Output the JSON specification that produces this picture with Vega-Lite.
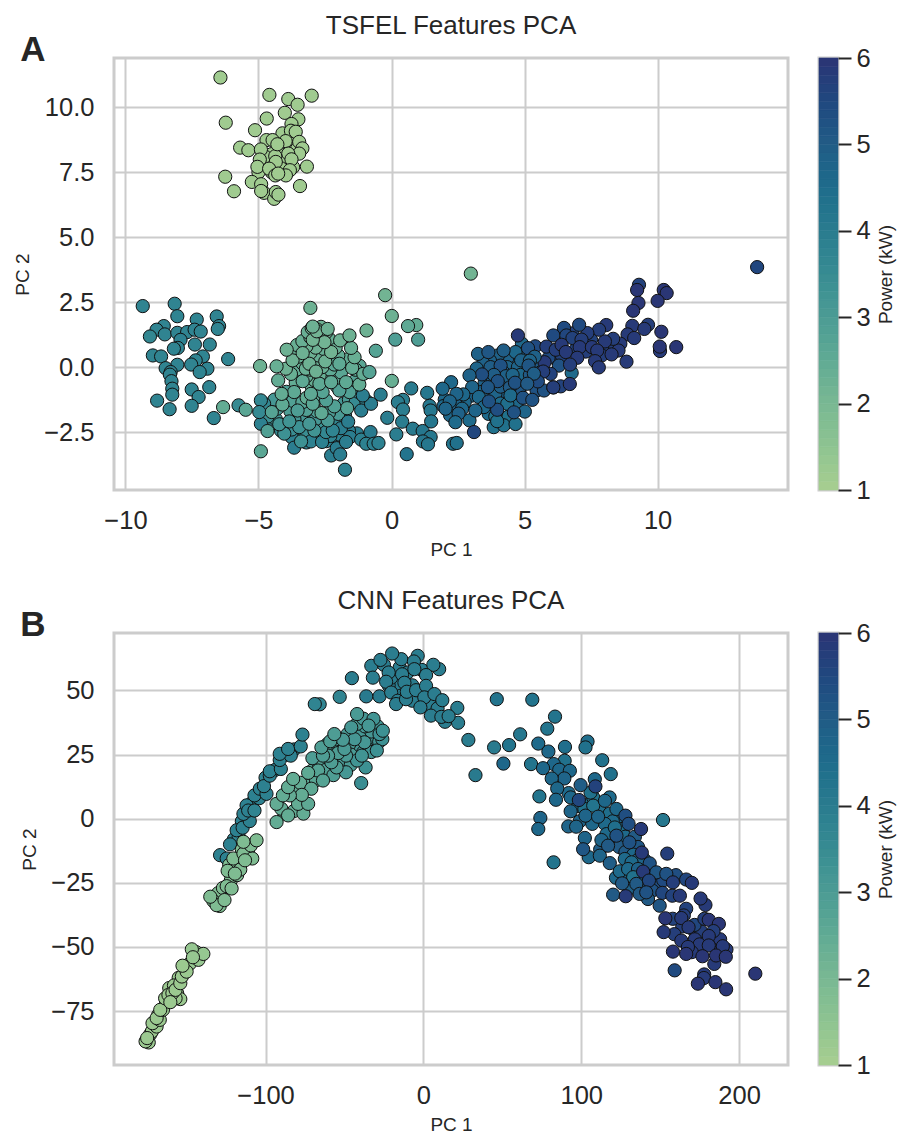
{"$schema":"https://vega.github.io/schema/vega-lite/v6.json","background":"white","padding":{"left":12,"top":11,"right":0,"bottom":0},"spacing":25,
"config":{"font":"Liberation Sans","view":{"stroke":"#cccccc","strokeWidth":3},"axis":{"domain":false,"ticks":false,"grid":true,"gridColor":"#cccccc","gridWidth":2,"labelFontSize":25.5,"labelColor":"#262626","titleFontSize":19,"titleFontWeight":"normal","titleColor":"#262626"},"title":{"fontSize":26,"fontWeight":"normal","color":"#262626","offset":-6},"concat":{"spacing":27}},
"datasets":{
"a":[{"x":-1.3,"y":-2.55,"p":3.9},{"x":-1.6,"y":-2.45,"p":3.9},{"x":-2,"y":-2.9,"p":3.9},{"x":-3.2,"y":-2.9,"p":3.8},{"x":-2.45,"y":-2.85,"p":3.8},{"x":-2.95,"y":-2.7,"p":3.6},{"x":-3.55,"y":-2.75,"p":3.6},{"x":-3.75,"y":-2.7,"p":3.8},{"x":-1.95,"y":-2.6,"p":3.8},{"x":-2.3,"y":-2.65,"p":3.7},{"x":-2.75,"y":-2.5,"p":3.5},{"x":-3.25,"y":-2.5,"p":3.4},{"x":-3.75,"y":-2.4,"p":3.4},{"x":-4.15,"y":-2.45,"p":3.5},{"x":-4.55,"y":-2.2,"p":3.6},{"x":-1.75,"y":-1.85,"p":3.7},{"x":-2,"y":-2.15,"p":3.6},{"x":-2.55,"y":-2.15,"p":3.3},{"x":-2.85,"y":-2,"p":3.1},{"x":-3.3,"y":-2.05,"p":3.1},{"x":-3.65,"y":-2,"p":3.1},{"x":-4.35,"y":-2,"p":3.2},{"x":-4.65,"y":-1.9,"p":3.3},{"x":-1.8,"y":-1.4,"p":3.1},{"x":-2,"y":-1.8,"p":3},{"x":-2.35,"y":-1.75,"p":2.9},{"x":-2.8,"y":-1.7,"p":2.8},{"x":-3.2,"y":-1.65,"p":2.8},{"x":-3.8,"y":-1.7,"p":2.9},{"x":-4.3,"y":-1.6,"p":3},{"x":-4.4,"y":-1.25,"p":3.1},{"x":-3.95,"y":-0.95,"p":2.9},{"x":-3.7,"y":-1.3,"p":2.8},{"x":-3.35,"y":-1.35,"p":2.7},{"x":-2.85,"y":-1.25,"p":2.5},{"x":-2.7,"y":-1.1,"p":2.5},{"x":-1.6,"y":-1.25,"p":3},{"x":-1.35,"y":-1.35,"p":3.5},{"x":-0.95,"y":-1.3,"p":3.7},{"x":-1.25,"y":-0.95,"p":3.6},{"x":-1.4,"y":-0.55,"p":2.7},{"x":-2.05,"y":-0.75,"p":2.6},{"x":-2.1,"y":-0.5,"p":2.5},{"x":-3.6,"y":-0.6,"p":2.4},{"x":-3,"y":-0.75,"p":2.4},{"x":-2.5,"y":-0.55,"p":2.4},{"x":-2.9,"y":-0.5,"p":2.3},{"x":-3.2,"y":-0.35,"p":2.4},{"x":-2.7,"y":-0.3,"p":2.3},{"x":-3.05,"y":-0.1,"p":2.3},{"x":-3.55,"y":-0.1,"p":2.4},{"x":-1.2,"y":0.05,"p":2.6},{"x":-1.35,"y":-0.1,"p":2.5},{"x":-1.65,"y":0.3,"p":2.4},{"x":-1.9,"y":-0.2,"p":2.6},{"x":-2.3,"y":-0.1,"p":2.5},{"x":-3.35,"y":0.15,"p":2.3},{"x":-2.6,"y":0,"p":2.3},{"x":-2.9,"y":0.25,"p":2.3},{"x":-3.2,"y":0.35,"p":2.2},{"x":-3.5,"y":0.4,"p":2.3},{"x":-2,"y":0.45,"p":2.4},{"x":-2.1,"y":0.75,"p":2.3},{"x":-2.75,"y":0.45,"p":2.3},{"x":-3.05,"y":0.55,"p":2.2},{"x":-3.75,"y":0.6,"p":2.3},{"x":-2.55,"y":0.7,"p":2.3},{"x":-2.85,"y":0.75,"p":2.2},{"x":-3.2,"y":0.8,"p":2.2},{"x":-3.55,"y":0.85,"p":2.3},{"x":-3.35,"y":1,"p":2.3},{"x":-2.35,"y":1.1,"p":2.3},{"x":-2.75,"y":1.1,"p":2.2},{"x":-3.05,"y":1.15,"p":2.2},{"x":-3.15,"y":1.35,"p":2.3},{"x":-2.45,"y":1.35,"p":2.2},{"x":-2.65,"y":1.55,"p":2.2},{"x":-2.8,"y":1.45,"p":2.1},{"x":-3,"y":1.5,"p":2.2},
{"x":4.9,"y":0.9,"p":4.6},{"x":5,"y":0.55,"p":4.7},{"x":4.6,"y":0.3,"p":4.7},{"x":4.35,"y":0.35,"p":4.8},{"x":4,"y":0.45,"p":4.8},{"x":3.7,"y":0.25,"p":4.8},{"x":3.45,"y":0.15,"p":4.8},{"x":3.2,"y":-0.05,"p":4.7},{"x":4.35,"y":0,"p":4.7},{"x":4.75,"y":0,"p":4.7},{"x":5.3,"y":0.1,"p":4.7},{"x":5.55,"y":0,"p":5},{"x":3.5,"y":-0.6,"p":4.8},{"x":3.8,"y":-0.55,"p":4.8},{"x":4.2,"y":-0.2,"p":4.7},{"x":4.85,"y":-0.3,"p":4.6},{"x":5.2,"y":-0.3,"p":5},{"x":4.8,"y":-0.85,"p":5},{"x":4.25,"y":-1,"p":4.8},{"x":3.9,"y":-1.05,"p":4.7},{"x":3.4,"y":-0.95,"p":4.7},{"x":3,"y":-1.1,"p":4.7},{"x":2.75,"y":-1.35,"p":4.6},{"x":2.4,"y":-1.4,"p":4.7},{"x":2.65,"y":-1.6,"p":4.6},{"x":3.65,"y":-1.8,"p":4.5},{"x":4.1,"y":-1.4,"p":4.5},{"x":4.7,"y":-1.4,"p":4.6},{"x":4.8,"y":-0.95,"p":5.1},{"x":5.6,"y":-0.2,"p":5.2},{"x":5.45,"y":-0.9,"p":5.2},{"x":2,"y":-1.25,"p":4.6},{"x":1.95,"y":-1.5,"p":4.6},{"x":2.2,"y":-1.85,"p":4.6},{"x":3.9,"y":-1.9,"p":4.3},{"x":4.4,"y":-1.9,"p":4.3},{"x":5.4,"y":0.8,"p":5.4},{"x":6.8,"y":1.3,"p":5.6},{"x":7,"y":0.95,"p":5.6},{"x":7.3,"y":0.6,"p":5.7},{"x":7.5,"y":1.05,"p":5.6},{"x":6.2,"y":0.35,"p":5.5},{"x":5.9,"y":0.35,"p":5.4},{"x":8.1,"y":0.75,"p":5.7},{"x":7.9,"y":0.45,"p":5.7},{"x":8.4,"y":0.8,"p":5.7},{"x":6.9,"y":0.65,"p":5.6},{"x":6.4,"y":0.45,"p":5.6},
{"x":-4.91,"y":-3.24,"p":2.6},{"x":-9.35,"y":2.35,"p":3.7},{"x":-8.15,"y":2.44,"p":3.7},{"x":-8.05,"y":1.96,"p":3.7},{"x":-7.32,"y":1.83,"p":3.7},{"x":-6.57,"y":1.95,"p":3.7},{"x":-6.48,"y":1.58,"p":3.7},{"x":-6.53,"y":1.47,"p":3.7},{"x":-8.56,"y":1.58,"p":3.7},{"x":-8.83,"y":1.44,"p":3.7},{"x":-9.08,"y":1.18,"p":3.6},{"x":-8.52,"y":1.26,"p":3.7},{"x":-8.05,"y":1.32,"p":3.7},{"x":-7.68,"y":1.35,"p":3.7},{"x":-7.4,"y":1.44,"p":3.7},{"x":-7.17,"y":1.37,"p":3.7},{"x":-7.93,"y":1.05,"p":3.8},{"x":-8.03,"y":0.74,"p":3.7},{"x":-8.18,"y":0.71,"p":3.7},{"x":-7.39,"y":0.87,"p":3.7},{"x":-6.83,"y":0.87,"p":3.7},{"x":-8.97,"y":0.45,"p":3.7},{"x":-8.66,"y":0.41,"p":3.7},{"x":-7.09,"y":0.41,"p":3.7},{"x":-7.36,"y":0.26,"p":3.7},{"x":-7.53,"y":0.1,"p":3.7},{"x":-6.92,"y":-0.06,"p":3.7},{"x":-7.21,"y":-0.19,"p":3.7},{"x":-8.05,"y":0.09,"p":3.7},{"x":-8.49,"y":-0.04,"p":3.7},{"x":-6.14,"y":0.31,"p":3.7},{"x":-8.3,"y":-0.19,"p":3.7},{"x":-8.33,"y":-0.29,"p":3.7},{"x":-8.27,"y":-0.54,"p":3.7},{"x":-8.24,"y":-0.83,"p":3.7},{"x":-8.24,"y":-1.06,"p":3.7},{"x":-7.51,"y":-0.86,"p":3.7},{"x":-6.85,"y":-0.77,"p":3.7},{"x":-7.25,"y":-1.15,"p":3.7},{"x":-8.81,"y":-1.29,"p":3.7},{"x":-8.34,"y":-1.62,"p":3.7},{"x":-7.51,"y":-1.49,"p":3.7},{"x":-6.68,"y":-1.96,"p":3.7},
{"x":-0.41,"y":-1.06,"p":3.9},{"x":0.74,"y":-0.82,"p":4.0},{"x":1.34,"y":-0.99,"p":4.1},{"x":0.43,"y":-1.26,"p":3.9},{"x":0.24,"y":-1.35,"p":3.9},{"x":0.43,"y":-1.63,"p":3.9},{"x":-0.16,"y":-1.95,"p":3.9},{"x":0.4,"y":-2.1,"p":3.9},{"x":0.18,"y":-2.59,"p":3.9},{"x":0.8,"y":-2.37,"p":4},{"x":1.17,"y":-2.46,"p":4.1},{"x":1.47,"y":-2.69,"p":4.1},{"x":1.18,"y":-2.86,"p":4.1},{"x":1.37,"y":-2.97,"p":4.1},{"x":1.43,"y":-1.49,"p":4.1},{"x":1.47,"y":-1.67,"p":4.1},{"x":1.49,"y":-2.09,"p":4.1},{"x":0.57,"y":-3.35,"p":4.2},{"x":2.31,"y":-2.95,"p":4.2},
{"x":-3.66,"y":-3.1,"p":3.9},{"x":-3.03,"y":-2.86,"p":3.8},{"x":-2.61,"y":-2.88,"p":3.8},{"x":-2.27,"y":-3.4,"p":3.9},{"x":-2.06,"y":-3.12,"p":3.9},{"x":-1.93,"y":-3.36,"p":3.9},{"x":-1.75,"y":-3.95,"p":3.8},{"x":-1.56,"y":-2.69,"p":3.9},{"x":-1.71,"y":-2.88,"p":3.9},{"x":-1.9,"y":-2.35,"p":3.9},{"x":-1.63,"y":-2.1,"p":3.9},{"x":-1.14,"y":-1.67,"p":3.9},{"x":-0.77,"y":-1.41,"p":3.9},{"x":-1.08,"y":-1.09,"p":3.9},{"x":-1.14,"y":-2.79,"p":3.8},{"x":-0.79,"y":-2.5,"p":4},{"x":-0.95,"y":-2.95,"p":3.8},{"x":-0.67,"y":-2.95,"p":3.8},{"x":-0.49,"y":-2.92,"p":3.8},{"x":-4.91,"y":-2.18,"p":3.8},{"x":-4.79,"y":-1.41,"p":3.6},{"x":-4.91,"y":-1.28,"p":3.6},{"x":-4.97,"y":-1.73,"p":3.5},
{"x":-5.75,"y":-1.47,"p":3.5},{"x":-4.03,"y":-2.56,"p":3.3},{"x":-3.47,"y":-2.31,"p":3.3},{"x":-2.46,"y":-2.5,"p":3.6},{"x":-2.21,"y":-2.44,"p":3.7},{"x":-2.9,"y":-2.44,"p":3.2},{"x":-4.22,"y":-2.2,"p":3.2},{"x":-3.84,"y":-2.09,"p":3.2},{"x":-3.09,"y":-2.18,"p":3.1},{"x":-3.4,"y":-2.86,"p":3.3},{"x":-4.66,"y":-2.46,"p":2.8},{"x":-2.4,"y":-2.05,"p":3},{"x":-4.5,"y":-1.73,"p":2.7},{"x":-3.53,"y":-1.67,"p":2.9},{"x":-4.1,"y":-1.44,"p":2.5},{"x":-2.63,"y":-1.77,"p":2.5},{"x":-1.67,"y":-1.58,"p":2.7},{"x":-2.15,"y":-1.51,"p":2.8},{"x":-3.19,"y":-1.18,"p":2.4},{"x":-3.66,"y":-0.96,"p":2.5},{"x":-4.13,"y":-1.03,"p":2.4},{"x":-2.96,"y":-1.41,"p":2.6},{"x":-2.46,"y":-1.28,"p":2.8},{"x":-1.58,"y":-0.96,"p":2.8},{"x":-1.96,"y":-0.9,"p":2.8},{"x":-2.59,"y":-0.96,"p":2.7},{"x":-3.03,"y":-1.03,"p":2.5},{"x":-4.26,"y":-0.51,"p":2.4},{"x":-3.34,"y":-0.54,"p":2.5},{"x":-2.71,"y":-0.64,"p":2.5},{"x":-2.27,"y":-0.58,"p":2.5},{"x":-1.71,"y":-0.58,"p":2.5},{"x":-1.21,"y":-0.67,"p":2.4},{"x":-1.06,"y":-0.26,"p":2.4},{"x":-0.83,"y":-0.19,"p":2.7},{"x":-1.48,"y":-0.03,"p":2.4},{"x":-3.78,"y":-0.26,"p":2.3},{"x":-3.97,"y":-0.06,"p":2.2},{"x":-3.22,"y":-0.06,"p":2.3},{"x":-2.15,"y":0.1,"p":2.6},{"x":-1.96,"y":0.13,"p":2.5},{"x":-3.09,"y":0.13,"p":2.2},{"x":-2.84,"y":-0.17,"p":2.2},{"x":-2.49,"y":0.22,"p":2.2},{"x":-3.72,"y":0.26,"p":2.2},{"x":-1.39,"y":0.38,"p":2.3},{"x":-3.34,"y":0.54,"p":2.2},{"x":-2.27,"y":0.58,"p":2.1},{"x":-3.94,"y":0.67,"p":2.2},{"x":-1.52,"y":0.74,"p":2.3},{"x":-2.52,"y":0.96,"p":2.1},{"x":-2.96,"y":1.05,"p":2.1},{"x":-1.93,"y":1.03,"p":2.2},{"x":-1.58,"y":1.22,"p":2.2},{"x":-2.81,"y":1.38,"p":2.1},{"x":-2.4,"y":1.47,"p":2.2},{"x":-2.96,"y":1.56,"p":2.2},{"x":-4.94,"y":0.04,"p":2.2},{"x":-4.32,"y":0.03,"p":2.3},{"x":-6.33,"y":-1.54,"p":2.4},{"x":-5.48,"y":-1.64,"p":2.6},{"x":-3.05,"y":2.28,"p":2.2},{"x":-0.24,"y":2.77,"p":2.1},{"x":0.01,"y":1.97,"p":2.2},{"x":-0.94,"y":1.41,"p":2.2},{"x":0.93,"y":1.62,"p":2.4},{"x":0.62,"y":1.58,"p":2.5},{"x":0.14,"y":1.06,"p":2.9},{"x":1,"y":1.06,"p":2.9},{"x":-0.59,"y":0.63,"p":2.7},{"x":0.01,"y":-0.53,"p":2.3},
{"x":2.98,"y":3.6,"p":2.1},{"x":13.74,"y":3.85,"p":5.5},{"x":9.3,"y":3.17,"p":5.6},{"x":9.23,"y":2.97,"p":5.9},{"x":10.23,"y":2.97,"p":5.9},{"x":10.34,"y":2.85,"p":5.9},{"x":10,"y":2.55,"p":5.9},{"x":9.28,"y":2.47,"p":5.9},{"x":9.08,"y":2.17,"p":5.9},{"x":9.64,"y":1.63,"p":5.7},{"x":9.05,"y":1.59,"p":5.8},{"x":9.5,"y":1.47,"p":5.8},{"x":10.14,"y":1.36,"p":5.9},{"x":8.87,"y":1.26,"p":5.8},{"x":9.12,"y":1.12,"p":5.8},{"x":10.09,"y":0.62,"p":5.8},{"x":10.08,"y":0.79,"p":5.9},{"x":10.7,"y":0.77,"p":5.9},{"x":8.6,"y":0.9,"p":5.8},{"x":8.53,"y":0.64,"p":5.8},{"x":8.27,"y":0.49,"p":5.8},{"x":8.83,"y":0.21,"p":5.8},{"x":8.33,"y":1.09,"p":5.7},{"x":8.02,"y":0.99,"p":5.8},{"x":8.07,"y":1.62,"p":5.8},{"x":7.8,"y":1.44,"p":5.7},{"x":7.36,"y":1.31,"p":5.7},{"x":7.05,"y":1.63,"p":5.4},{"x":6.48,"y":1.51,"p":5.4},{"x":6.08,"y":1.22,"p":5.4},{"x":6.57,"y":1.22,"p":5.5},{"x":6.8,"y":1.12,"p":5.6},{"x":7.14,"y":1.06,"p":5.7},{"x":5.82,"y":0.79,"p":5.7},{"x":6.17,"y":0.67,"p":5.7},{"x":6.39,"y":0.86,"p":5.8},{"x":6.55,"y":0.58,"p":5.8},{"x":7.07,"y":0.77,"p":5.8},{"x":7.53,"y":0.77,"p":5.8},{"x":7.73,"y":0.64,"p":5.8},{"x":6.98,"y":0.36,"p":5.8},{"x":7.65,"y":0.23,"p":5.8},{"x":7.79,"y":-0.01,"p":5.8},{"x":6.77,"y":-0.22,"p":4.5},{"x":6.29,"y":0.06,"p":5.2},{"x":6.71,"y":0.1,"p":5.7},{"x":5.98,"y":-0.26,"p":5.6},{"x":5.75,"y":0.19,"p":5.8},{"x":5.7,"y":-0.17,"p":5.7},{"x":5.73,"y":-0.9,"p":5.2},{"x":6.08,"y":-0.78,"p":4.8},{"x":6.36,"y":-0.74,"p":5.6},{"x":6.7,"y":-0.65,"p":5.8},{"x":6.08,"y":-0.78,"p":5.7},{"x":5.5,"y":-0.55,"p":5.4},
{"x":4.66,"y":0.58,"p":4.6},{"x":4.21,"y":0.64,"p":4.9},{"x":3.25,"y":0.51,"p":4.8},{"x":3.64,"y":0.58,"p":5.1},{"x":5.13,"y":0.73,"p":5.2},{"x":4.75,"y":1.22,"p":5.8},{"x":4.87,"y":0.26,"p":4.8},{"x":5.38,"y":0.4,"p":4.8},{"x":5.2,"y":0.25,"p":4.7},{"x":3.72,"y":0,"p":4.9},{"x":5.15,"y":0.06,"p":5.1},{"x":4.1,"y":0.06,"p":5.2},{"x":4.3,"y":-0.35,"p":4.8},{"x":4.55,"y":-0.3,"p":4.7},{"x":3.85,"y":-0.3,"p":4.9},{"x":5.35,"y":-0.25,"p":4.9},{"x":3.4,"y":-0.28,"p":5.3},{"x":2.93,"y":-0.32,"p":4.8},{"x":4.1,"y":-0.75,"p":4.9},{"x":4.45,"y":-0.78,"p":5},{"x":3.99,"y":-0.54,"p":5.2},{"x":4.64,"y":-0.6,"p":5.2},{"x":5.1,"y":-0.64,"p":5},{"x":3.62,"y":-0.77,"p":5.1},{"x":3.03,"y":-0.77,"p":4.7},{"x":2.24,"y":-0.58,"p":4.6},{"x":1.92,"y":-0.83,"p":4.6},{"x":2.7,"y":-1.05,"p":4.6},{"x":2.44,"y":-1.03,"p":4.7},{"x":2.19,"y":-1.32,"p":4.7},{"x":2.03,"y":-1.6,"p":4.7},{"x":2.52,"y":-1.79,"p":4.8},{"x":2.4,"y":-2.12,"p":4.5},{"x":2.93,"y":-2.05,"p":4.5},{"x":3.1,"y":-2.5,"p":5.5},{"x":2.45,"y":-2.92,"p":4.3},{"x":3.28,"y":-1.15,"p":4.6},{"x":3.47,"y":-1.54,"p":4.6},{"x":3.15,"y":-1.67,"p":4.7},{"x":3.84,"y":-2.31,"p":4.3},{"x":4.22,"y":-2.24,"p":4.3},{"x":4.66,"y":-2.19,"p":4.3},{"x":3.97,"y":-2.08,"p":4.3},{"x":4.35,"y":-1.41,"p":4.4},{"x":4.47,"y":-1.09,"p":4.5},{"x":5.01,"y":-1.71,"p":4.7},{"x":4.6,"y":-1.74,"p":5.2},{"x":3.97,"y":-1.64,"p":5.3},{"x":3.66,"y":-1.32,"p":5.2},{"x":4.94,"y":-1.18,"p":5.2},{"x":5.29,"y":-1.26,"p":5.2},
{"x":-4.5,"y":8.2,"p":1.1},{"x":-4.1,"y":8.3,"p":1.1},{"x":-3.9,"y":8.6,"p":1.1},{"x":-4.2,"y":7.9,"p":1.1},{"x":-3.7,"y":7.7,"p":1.1},{"x":-4.5,"y":7.5,"p":1.1},{"x":-5,"y":7.5,"p":1.1},{"x":-4.15,"y":7.65,"p":1.1},{"x":-3.55,"y":8.4,"p":1.1},{"x":-3.65,"y":8.9,"p":1.1},{"x":-4.75,"y":8.1,"p":1.1},{"x":-4.1,"y":9,"p":1.1},{"x":-6.43,"y":11.15,"p":1.1},{"x":-4.59,"y":10.48,"p":1.1},{"x":-3.88,"y":10.32,"p":1.1},{"x":-3,"y":10.45,"p":1.1},{"x":-3.53,"y":10.1,"p":1.1},{"x":-4.01,"y":9.79,"p":1.1},{"x":-4.69,"y":9.57,"p":1.1},{"x":-3.5,"y":9.54,"p":1.1},{"x":-6.23,"y":9.41,"p":1.1},{"x":-3.76,"y":9.36,"p":1.1},{"x":-5.13,"y":9.12,"p":1.1},{"x":-3.78,"y":9.1,"p":1.1},{"x":-3.6,"y":9.06,"p":1.1},{"x":-4.7,"y":8.74,"p":1.1},{"x":-3.98,"y":8.7,"p":1.1},{"x":-3.47,"y":8.67,"p":1.1},{"x":-5.69,"y":8.45,"p":1.1},{"x":-5.38,"y":8.35,"p":1.1},{"x":-4.91,"y":8.38,"p":1.1},{"x":-3.35,"y":8.42,"p":1.1},{"x":-3.47,"y":8.22,"p":1.1},{"x":-3.88,"y":8.22,"p":1.1},{"x":-4.37,"y":8.12,"p":1.1},{"x":-3.76,"y":8,"p":1.1},{"x":-4.95,"y":7.99,"p":1.1},{"x":-4.35,"y":7.9,"p":1.1},{"x":-5.04,"y":7.71,"p":1.1},{"x":-3.18,"y":7.72,"p":1.1},{"x":-3.82,"y":7.58,"p":1.1},{"x":-4.6,"y":7.64,"p":1.1},{"x":-3.97,"y":7.38,"p":1.1},{"x":-4.37,"y":7.38,"p":1.1},{"x":-4.26,"y":7.45,"p":1.1},{"x":-6.25,"y":7.33,"p":1.1},{"x":-5.25,"y":7.13,"p":1.1},{"x":-4.9,"y":7.04,"p":1.1},{"x":-3.44,"y":6.97,"p":1.1},{"x":-5.92,"y":6.77,"p":1.1},{"x":-4.79,"y":6.71,"p":1.1},{"x":-4.9,"y":6.78,"p":1.1},{"x":-4.41,"y":6.48,"p":1.1},{"x":-4.35,"y":6.74,"p":1.1},{"x":-4.25,"y":6.64,"p":1.1},{"x":-4.47,"y":8.74,"p":1.1},{"x":-4.29,"y":8.58,"p":1.1}],
"b":[{"x":-170,"y":-80,"p":1.2},{"x":-173,"y":-84,"p":1.2},{"x":-168,"y":-76.5,"p":1.2},{"x":-163,"y":-72,"p":1.2},{"x":-159,"y":-70,"p":1.2},{"x":-156,"y":-68,"p":1.2},{"x":-161,"y":-66,"p":1.2},{"x":-155,"y":-62,"p":1.2},{"x":-158,"y":-65,"p":1.2},{"x":-148,"y":-56.5,"p":1.3},{"x":-144,"y":-52,"p":1.3},{"x":-174,"y":-87.2,"p":1.2},{"x":-176,"y":-86.8,"p":1.2},{"x":-172,"y":-82.9,"p":1.2},{"x":-175,"y":-85.5,"p":1.2},{"x":-169,"y":-81,"p":1.2},{"x":-171.6,"y":-79.7,"p":1.2},{"x":-167,"y":-78.4,"p":1.2},{"x":-169,"y":-77.7,"p":1.2},{"x":-165,"y":-74.5,"p":1.2},{"x":-166.7,"y":-74.5,"p":1.2},{"x":-154,"y":-70.3,"p":1.2},{"x":-157,"y":-70,"p":1.2},{"x":-163.6,"y":-70,"p":1.2},{"x":-161.5,"y":-68.7,"p":1.2},{"x":-159,"y":-68,"p":1.2},{"x":-160.3,"y":-71.5,"p":1.2},{"x":-157,"y":-66.7,"p":1.2},{"x":-154,"y":-64.1,"p":1.2},{"x":-153,"y":-61.5,"p":1.2},{"x":-150,"y":-59.6,"p":1.2},{"x":-152.6,"y":-57.3,"p":1.2},{"x":-142.5,"y":-55,"p":1.3},{"x":-139.4,"y":-52.7,"p":1.3},{"x":-146.7,"y":-50.9,"p":1.3},{"x":-146,"y":-54,"p":1.3},
{"x":-120,"y":-8,"p":3.7},{"x":-117,"y":-7,"p":3.7},{"x":-115,"y":-1,"p":3.8},{"x":-109,"y":6,"p":3.7},{"x":-104,"y":8,"p":3.8},{"x":-100,"y":16,"p":3.7},{"x":-94,"y":19,"p":3.8},{"x":-87,"y":25,"p":3.8},{"x":-82,"y":27,"p":3.8},{"x":-128.8,"y":-14.2,"p":3.8},{"x":-122.5,"y":-10,"p":3.8},{"x":-124.6,"y":-15.5,"p":3.8},{"x":-118.3,"y":-4.5,"p":3.8},{"x":-114.5,"y":-3.5,"p":3.8},{"x":-110,"y":-0.9,"p":3.8},{"x":-114,"y":1.9,"p":3.8},{"x":-112,"y":5.2,"p":3.8},{"x":-111,"y":3.2,"p":3.8},{"x":-107,"y":3.2,"p":3.7},{"x":-107,"y":9.1,"p":3.8},{"x":-103.6,"y":11.7,"p":3.8},{"x":-99.4,"y":9.7,"p":3.8},{"x":-101,"y":12.7,"p":3.8},{"x":-97.3,"y":16.8,"p":3.8},{"x":-97.3,"y":18.5,"p":3.8},{"x":-90.3,"y":19.4,"p":3.8},{"x":-91,"y":22.9,"p":3.8},{"x":-84,"y":24.6,"p":3.8},{"x":-91,"y":25.3,"p":3.8},{"x":-85.7,"y":27.2,"p":3.8},{"x":-77.7,"y":28.2,"p":3.8},{"x":-76.6,"y":32.8,"p":3.8},
{"x":-130,"y":-29,"p":1.8},{"x":-127,"y":-27,"p":1.8},{"x":-122,"y":-24,"p":1.8},{"x":-118,"y":-22,"p":1.8},{"x":-123,"y":-18,"p":1.8},{"x":-118,"y":-17,"p":1.8},{"x":-115,"y":-12,"p":1.8},{"x":-111,"y":-12,"p":1.8},{"x":-129,"y":-34,"p":1.8},{"x":-133,"y":-32.1,"p":1.8},{"x":-131,"y":-33.7,"p":1.8},{"x":-135,"y":-30.4,"p":1.8},{"x":-126,"y":-31.7,"p":1.8},{"x":-124.6,"y":-26.3,"p":1.8},{"x":-121.5,"y":-27.2,"p":1.8},{"x":-124,"y":-20.3,"p":1.8},{"x":-116,"y":-19.8,"p":1.8},{"x":-120.4,"y":-15.5,"p":1.8},{"x":-114,"y":-13.6,"p":1.8},{"x":-108.4,"y":-15.5,"p":1.8},{"x":-109.3,"y":-10.4,"p":1.8},{"x":-105.7,"y":-8.4,"p":1.8},{"x":-114,"y":-9,"p":1.8},{"x":-119.4,"y":-21.4,"p":1.8},{"x":-113,"y":-16.2,"p":1.8},
{"x":-88,"y":2,"p":2.4},{"x":-82,"y":3,"p":2.4},{"x":-76,"y":2,"p":2.4},{"x":-80,"y":11,"p":2.4},{"x":-74,"y":13,"p":2.5},{"x":-78,"y":14,"p":2.4},{"x":-68,"y":15,"p":2.6},{"x":-70,"y":19,"p":2.6},{"x":-66,"y":21,"p":2.7},{"x":-62,"y":19,"p":2.8},{"x":-57,"y":17,"p":2.9},{"x":-60,"y":27,"p":2.8},{"x":-56,"y":27,"p":2.9},{"x":-58,"y":24,"p":2.9},{"x":-52,"y":22,"p":3},{"x":-46,"y":21,"p":3},{"x":-45,"y":26,"p":3},{"x":-41,"y":28,"p":3.1},{"x":-47,"y":29,"p":3},{"x":-38,"y":26,"p":3.2},{"x":-33,"y":26,"p":3.2},{"x":-34,"y":31,"p":3.1},{"x":-30,"y":31,"p":3.2},{"x":-40,"y":33,"p":3.1},{"x":-33,"y":34,"p":3.1},{"x":-28,"y":30,"p":3.2},{"x":-26,"y":31,"p":3.3},{"x":-37,"y":36,"p":3.1},{"x":-48,"y":33,"p":3},{"x":-53,"y":29,"p":2.9},{"x":-61,"y":29,"p":2.8},{"x":-55,"y":31,"p":2.9},{"x":-42,"y":37,"p":3},{"x":-38,"y":39,"p":3.1},{"x":-29,"y":36,"p":3.2},{"x":-46,"y":25,"p":3},
{"x":-93,"y":-1.3,"p":2.4},{"x":-90,"y":3.9,"p":2.4},{"x":-85.7,"y":1.3,"p":2.4},{"x":-93,"y":5.8,"p":2.4},{"x":-79.4,"y":5.8,"p":2.4},{"x":-73,"y":5.8,"p":2.5},{"x":-71,"y":11.7,"p":2.5},{"x":-77,"y":9.3,"p":2.4},{"x":-84.6,"y":9.1,"p":2.4},{"x":-89,"y":9.1,"p":2.4},{"x":-85.7,"y":12.3,"p":2.4},{"x":-82.5,"y":15.5,"p":2.4},{"x":-66.7,"y":18.8,"p":2.7},{"x":-73,"y":17.9,"p":2.5},{"x":-63.6,"y":14.9,"p":2.7},{"x":-70.3,"y":23.6,"p":2.9},{"x":-49,"y":18.1,"p":3.1},{"x":-55,"y":20,"p":2.9},{"x":-58.3,"y":22,"p":2.9},{"x":-39.4,"y":13.9,"p":3.4},{"x":-36.6,"y":20,"p":3.3},{"x":-42,"y":22.7,"p":3.2},{"x":-29.5,"y":26.6,"p":3.3},{"x":-39,"y":24.6,"p":3.2},{"x":-49,"y":24.6,"p":3},{"x":-54,"y":25.6,"p":2.9},{"x":-60.4,"y":24.6,"p":2.9},{"x":-63.6,"y":24.6,"p":2.9},{"x":-64.6,"y":27.8,"p":2.9},{"x":-50,"y":27.2,"p":3},{"x":-37.3,"y":29.8,"p":3.1},{"x":-43.6,"y":31,"p":3.1},{"x":-51,"y":30.8,"p":3},{"x":-59,"y":30.2,"p":2.9},{"x":-56.4,"y":33,"p":2.9},{"x":-27.8,"y":33,"p":3.3},{"x":-25.7,"y":34.3,"p":3.3},{"x":-45.7,"y":35.6,"p":3.1},{"x":-31.6,"y":38.9,"p":3.2},{"x":-34.7,"y":36.3,"p":3.1},{"x":-42,"y":40.8,"p":3},
{"x":-25,"y":60,"p":3.9},{"x":-15,"y":59,"p":3.9},{"x":-10,"y":57,"p":3.9},{"x":-1,"y":58,"p":3.9},{"x":-17,"y":52,"p":3.9},{"x":-7,"y":52,"p":3.9},{"x":-2,"y":49,"p":3.9},{"x":3,"y":49,"p":3.9},{"x":-22,"y":52,"p":3.9},{"x":-7,"y":46,"p":3.9},{"x":-14,"y":48,"p":3.9},{"x":5,"y":44,"p":3.9},{"x":9,"y":43,"p":3.9},{"x":-65.7,"y":44.6,"p":3.7},{"x":-68.8,"y":44.7,"p":3.7},{"x":-53,"y":47.5,"p":3.7},{"x":-45.3,"y":54.8,"p":3.9},{"x":-36.2,"y":47.7,"p":4},{"x":-27.8,"y":47.7,"p":4},{"x":-33,"y":59.6,"p":3.9},{"x":-27.2,"y":61.9,"p":3.9},{"x":-14,"y":62.2,"p":3.9},{"x":-19.8,"y":64.4,"p":3.9},{"x":-3.6,"y":63.5,"p":3.9},{"x":-6,"y":61.3,"p":3.9},{"x":10,"y":58.3,"p":3.9},{"x":6.3,"y":60,"p":3.9},{"x":-32,"y":55,"p":3.9},{"x":-20.4,"y":55,"p":3.9},{"x":-22,"y":57,"p":3.9},{"x":-13.5,"y":56.3,"p":3.9},{"x":1.7,"y":56,"p":3.9},{"x":-23.6,"y":53.4,"p":3.9},{"x":-5.7,"y":58.3,"p":3.9},{"x":-12,"y":53,"p":3.9},{"x":-20.4,"y":49.2,"p":3.9},{"x":-16.2,"y":46,"p":3.9},{"x":-17.3,"y":44.7,"p":3.9},{"x":-11,"y":46.6,"p":3.9},{"x":-10.5,"y":49.5,"p":3.9},{"x":-4.6,"y":50.1,"p":3.9},{"x":1.7,"y":51.8,"p":3.9},{"x":0.6,"y":47.3,"p":3.9},{"x":7,"y":48.6,"p":3.9},{"x":12,"y":46.2,"p":3.9},{"x":-1.9,"y":43.4,"p":3.9},{"x":4.8,"y":40.2,"p":3.9},{"x":13.7,"y":37.8,"p":3.9},{"x":21.5,"y":43.2,"p":3.9},{"x":22,"y":37.4,"p":3.9},{"x":11.4,"y":39.7,"p":3.9},{"x":16,"y":40,"p":3.9},{"x":28.5,"y":30.7,"p":3.9},{"x":33,"y":17,"p":4},
{"x":92,"y":10,"p":4.5},{"x":98,"y":5,"p":4.4},{"x":105,"y":6,"p":4.3},{"x":112,"y":3,"p":4.4},{"x":118,"y":2,"p":4.4},{"x":125,"y":1,"p":4.5},{"x":120,"y":-1,"p":4.5},{"x":115,"y":-2,"p":4.5},{"x":99,"y":-1,"p":4.7},{"x":107,"y":-2,"p":4.6},{"x":126,"y":-4,"p":4.4},{"x":120,"y":-7,"p":4.5},{"x":116,"y":-6,"p":4.5},{"x":125,"y":-9,"p":4.6},{"x":128,"y":-7,"p":4.5},{"x":134,"y":-7,"p":5},{"x":136,"y":-11,"p":5.1},{"x":124,"y":-11,"p":5},{"x":112,"y":-12,"p":4.9},{"x":128,"y":-13,"p":5},{"x":133,"y":-14,"p":4.6},{"x":140,"y":-16,"p":5},{"x":136,"y":-16,"p":4.7},{"x":143,"y":-21,"p":5},{"x":146,"y":-24,"p":5.2},{"x":122,"y":-23,"p":4.6},{"x":128,"y":-24,"p":4.7},{"x":131,"y":-27,"p":4.8},{"x":138,"y":-26,"p":5.1},{"x":148,"y":-26,"p":5.3},{"x":152,"y":-24,"p":5.4},{"x":145,"y":-28,"p":5.2},{"x":135,"y":-24,"p":4.5},{"x":160,"y":-22,"p":5.3},{"x":172,"y":-44,"p":5.7},{"x":176,"y":-44,"p":5.7},{"x":172,"y":-47,"p":5.8},{"x":175,"y":-49,"p":5.8},{"x":164,"y":-42,"p":5.7},{"x":159,"y":-45,"p":5.7},{"x":170,"y":-52,"p":5.8},{"x":185,"y":-48,"p":5.8},{"x":187,"y":-52,"p":5.8},{"x":192,"y":-51,"p":5.8},{"x":188,"y":-47,"p":5.8},
{"x":46.5,"y":46.6,"p":4.2},{"x":69,"y":46.4,"p":4.2},{"x":83.4,"y":39.8,"p":4.2},{"x":78.5,"y":35.1,"p":4.2},{"x":61.3,"y":32.9,"p":4.1},{"x":54.3,"y":28.7,"p":4.2},{"x":44.8,"y":27.8,"p":4},{"x":72.8,"y":29.3,"p":4.5},{"x":50.7,"y":21.5,"p":4.6},{"x":68.2,"y":21.3,"p":4.2},{"x":89.7,"y":28,"p":4.4},{"x":79.2,"y":26.2,"p":4.6},{"x":104,"y":30.1,"p":4.4},{"x":102.7,"y":27.8,"p":4.3},{"x":113.3,"y":22.8,"p":4.3},{"x":118.7,"y":17.4,"p":4.3},{"x":89.5,"y":22.6,"p":4.3},{"x":82.6,"y":21.3,"p":4.6},{"x":75.8,"y":19.7,"p":4.6},{"x":86.1,"y":19.1,"p":4.6},{"x":92.8,"y":18.7,"p":4.6},{"x":89.3,"y":15.7,"p":4.7},{"x":81.3,"y":15.7,"p":4.6},{"x":84.8,"y":11.8,"p":4.6},{"x":73.5,"y":8.7,"p":4.2},{"x":84,"y":7.4,"p":4.6},{"x":93.3,"y":8.3,"p":4.6},{"x":107.6,"y":8.3,"p":4.2},{"x":105.9,"y":10.2,"p":4.3},{"x":118,"y":8.3,"p":4.5},{"x":102,"y":3.8,"p":4.3},{"x":107.6,"y":5.1,"p":4.2},{"x":98.5,"y":7.3,"p":5.5},{"x":108.6,"y":15.4,"p":4.6},{"x":99.6,"y":13.1,"p":4.9},{"x":109,"y":12.6,"p":5.6},{"x":115,"y":7,"p":4.6},{"x":122.3,"y":3.8,"p":4.6},{"x":102.7,"y":1.2,"p":4.7},{"x":93.3,"y":2.9,"p":4.7},{"x":110.7,"y":0.8,"p":4.7},{"x":74.1,"y":0.3,"p":4.7},{"x":72.8,"y":-4,"p":4.6},{"x":91.8,"y":-3,"p":4.7},{"x":96.8,"y":-3.1,"p":4.7},{"x":82.5,"y":-17,"p":4.2},{"x":151.8,"y":-0.5,"p":4.1},{"x":102.3,"y":-7.5,"p":4.7},{"x":104.8,"y":-15,"p":4.6},{"x":111.8,"y":-14.4,"p":4.7},{"x":101.2,"y":-11.9,"p":5.1},{"x":112.8,"y":-8.3,"p":4.7},{"x":118.1,"y":-17.3,"p":4.9},{"x":121.3,"y":-3.4,"p":4.4},{"x":117,"y":-10.5,"p":5},{"x":122.3,"y":-6.6,"p":5.2},{"x":128,"y":1.2,"p":5.3},{"x":130,"y":-2,"p":5.3},{"x":137.9,"y":-4,"p":5.8},{"x":130.5,"y":-9.2,"p":5.2},{"x":138.4,"y":-13.2,"p":5.8},{"x":154.5,"y":-13.6,"p":5.7},{"x":127.6,"y":-15.7,"p":4.5},{"x":131.9,"y":-17,"p":4.5},{"x":143.4,"y":-17.4,"p":5.2},{"x":124.4,"y":-20.5,"p":4.5},{"x":129.7,"y":-19.6,"p":4.5},{"x":136,"y":-19.6,"p":4.8},{"x":132.9,"y":-22.8,"p":4.3},{"x":147.6,"y":-20.9,"p":5.1},{"x":153.9,"y":-21.5,"p":5.2},{"x":139.2,"y":-20.6,"p":5.8},{"x":142.9,"y":-24.1,"p":5.5},{"x":125.9,"y":-25.2,"p":5},{"x":120.2,"y":-29.6,"p":5},{"x":128.2,"y":-30.2,"p":5.8},{"x":134.9,"y":-25.4,"p":5},{"x":142.3,"y":-31.3,"p":5},{"x":137,"y":-29.3,"p":5},{"x":141.2,"y":-28.7,"p":5.2},{"x":149.7,"y":-33.9,"p":5.1},{"x":151.4,"y":-28.9,"p":5.5},{"x":158.1,"y":-24.8,"p":5.7},{"x":166.5,"y":-23.7,"p":5.5},{"x":170.1,"y":-25,"p":5.8},{"x":157.7,"y":-30,"p":5.6},{"x":162.5,"y":-30,"p":5.8},{"x":166.5,"y":-35.1,"p":5.6},{"x":178.7,"y":-33.6,"p":5.8},{"x":175.6,"y":-31.1,"p":5.8},{"x":171.8,"y":-41.4,"p":5.5},{"x":158,"y":-39,"p":5.6},{"x":165,"y":-37.7,"p":5.7},{"x":178,"y":-39,"p":5.7},{"x":153.3,"y":-38.8,"p":5.9},{"x":163.4,"y":-38.7,"p":5.8},{"x":168,"y":-42.3,"p":5.8},{"x":180.8,"y":-39.4,"p":5.9},{"x":187.2,"y":-41,"p":5.9},{"x":152.2,"y":-44.2,"p":5.8},{"x":183.8,"y":-43.8,"p":5.7},{"x":180.8,"y":-45.7,"p":5.8},{"x":163.4,"y":-47.5,"p":5.8},{"x":167.6,"y":-50,"p":5.8},{"x":158.1,"y":-51.8,"p":5.9},{"x":166.5,"y":-52.7,"p":5.9},{"x":180.8,"y":-49.4,"p":5.8},{"x":189.7,"y":-49.7,"p":5.8},{"x":176.8,"y":-53.6,"p":5.9},{"x":184.3,"y":-56.6,"p":5.8},{"x":185.4,"y":-53.3,"p":5.9},{"x":191.6,"y":-53.8,"p":5.9},{"x":159.2,"y":-59.1,"p":5.4},{"x":210.3,"y":-60.4,"p":5.9},{"x":177.9,"y":-60.7,"p":5.8},{"x":177.7,"y":-62.1,"p":5.8},{"x":173.9,"y":-64.3,"p":5.9},{"x":185,"y":-63.7,"p":5.9},{"x":191.8,"y":-66.5,"p":5.9}],
"bar":[{"lo":1,"hi":1.1},{"lo":1.1,"hi":1.2},{"lo":1.2,"hi":1.3},{"lo":1.3,"hi":1.4},{"lo":1.4,"hi":1.5},{"lo":1.5,"hi":1.6},{"lo":1.6,"hi":1.7},{"lo":1.7,"hi":1.8},{"lo":1.8,"hi":1.9},{"lo":1.9,"hi":2},{"lo":2,"hi":2.1},{"lo":2.1,"hi":2.2},{"lo":2.2,"hi":2.3},{"lo":2.3,"hi":2.4},{"lo":2.4,"hi":2.5},{"lo":2.5,"hi":2.6},{"lo":2.6,"hi":2.7},{"lo":2.7,"hi":2.8},{"lo":2.8,"hi":2.9},{"lo":2.9,"hi":3},{"lo":3,"hi":3.1},{"lo":3.1,"hi":3.2},{"lo":3.2,"hi":3.3},{"lo":3.3,"hi":3.4},{"lo":3.4,"hi":3.5},{"lo":3.5,"hi":3.6},{"lo":3.6,"hi":3.7},{"lo":3.7,"hi":3.8},{"lo":3.8,"hi":3.9},{"lo":3.9,"hi":4},{"lo":4,"hi":4.1},{"lo":4.1,"hi":4.2},{"lo":4.2,"hi":4.3},{"lo":4.3,"hi":4.4},{"lo":4.4,"hi":4.5},{"lo":4.5,"hi":4.6},{"lo":4.6,"hi":4.7},{"lo":4.7,"hi":4.8},{"lo":4.8,"hi":4.9},{"lo":4.9,"hi":5},{"lo":5,"hi":5.1},{"lo":5.1,"hi":5.2},{"lo":5.2,"hi":5.3},{"lo":5.3,"hi":5.4},{"lo":5.4,"hi":5.5},{"lo":5.5,"hi":5.6},{"lo":5.6,"hi":5.7},{"lo":5.7,"hi":5.8},{"lo":5.8,"hi":5.9},{"lo":5.9,"hi":6}],
"la":[{"l":"A"}],"lb":[{"l":"B"}]},
"vconcat":[
{"hconcat":[
{"width":674,"height":432,"title":"TSFEL Features PCA","layer":[
{"data":{"name":"a"},"mark":{"type":"circle","size":175,"opacity":1,"stroke":"#111111","strokeWidth":1},"encoding":{"x":{"field":"x","type":"quantitative","scale":{"domain":[-10.43,14.9],"nice":false,"zero":false},"axis":{"values":[-10,-5,0,5,10],"title":"PC 1","titlePadding":7,"labelPadding":18}},"y":{"field":"y","type":"quantitative","scale":{"domain":[-4.73,11.9],"nice":false,"zero":false},"axis":{"values":[-2.5,0,2.5,5,7.5,10],"format":".1f","title":"PC 2","titlePadding":11,"labelPadding":20}},"color":{"field":"p","type":"quantitative","legend":null,"scale":{"domain":[1,2,3,4,5,6],"range":["#a5cd90","#77b793","#4a9a94","#297a8e","#225a85","#2c3172"]}}}},
{"data":{"name":"la"},"mark":{"type":"text","fontSize":35,"fontWeight":"bold","color":"#262626","align":"center","baseline":"middle","dx":-81,"dy":-8,"clip":false},"encoding":{"x":{"datum":-10.43},"y":{"datum":11.9},"text":{"field":"l"}}}]},
{"width":19,"height":432,"data":{"name":"bar"},"mark":{"type":"rect","strokeWidth":0.6},"encoding":{"y":{"field":"lo","type":"quantitative","scale":{"domain":[1,6],"nice":false,"zero":false},"axis":{"orient":"right","values":[1,2,3,4,5,6],"grid":false,"ticks":true,"tickSize":13,"tickWidth":2,"tickColor":"#262626","labelPadding":5,"labelFontSize":25.5,"title":"Power (kW)","titleAngle":270,"titlePadding":25,"titleFontSize":19}},"y2":{"field":"hi"},"color":{"field":"lo","type":"quantitative","legend":null,"scale":{"domain":[1,2,3,4,5,6],"range":["#a5cd90","#77b793","#4a9a94","#297a8e","#225a85","#2c3172"]}},"stroke":{"field":"lo","type":"quantitative","legend":null,"scale":{"domain":[1,2,3,4,5,6],"range":["#a5cd90","#77b793","#4a9a94","#297a8e","#225a85","#2c3172"]}}}}
]},
{"hconcat":[
{"width":674,"height":432,"title":"CNN Features PCA","layer":[
{"data":{"name":"b"},"mark":{"type":"circle","size":175,"opacity":1,"stroke":"#111111","strokeWidth":1},"encoding":{"x":{"field":"x","type":"quantitative","scale":{"domain":[-196,231],"nice":false,"zero":false},"axis":{"values":[-100,0,100,200],"title":"PC 1","titlePadding":7,"labelPadding":18}},"y":{"field":"y","type":"quantitative","scale":{"domain":[-96,72.4],"nice":false,"zero":false},"axis":{"values":[-75,-50,-25,0,25,50],"title":"PC 2","titlePadding":11,"labelPadding":20}},"color":{"field":"p","type":"quantitative","legend":null,"scale":{"domain":[1,2,3,4,5,6],"range":["#a5cd90","#77b793","#4a9a94","#297a8e","#225a85","#2c3172"]}}}},
{"data":{"name":"lb"},"mark":{"type":"text","fontSize":35,"fontWeight":"bold","color":"#262626","align":"center","baseline":"middle","dx":-81,"dy":-8,"clip":false},"encoding":{"x":{"datum":-196},"y":{"datum":72.4},"text":{"field":"l"}}}]},
{"width":19,"height":432,"data":{"name":"bar"},"mark":{"type":"rect","strokeWidth":0.6},"encoding":{"y":{"field":"lo","type":"quantitative","scale":{"domain":[1,6],"nice":false,"zero":false},"axis":{"orient":"right","values":[1,2,3,4,5,6],"grid":false,"ticks":true,"tickSize":13,"tickWidth":2,"tickColor":"#262626","labelPadding":5,"labelFontSize":25.5,"title":"Power (kW)","titleAngle":270,"titlePadding":25,"titleFontSize":19}},"y2":{"field":"hi"},"color":{"field":"lo","type":"quantitative","legend":null,"scale":{"domain":[1,2,3,4,5,6],"range":["#a5cd90","#77b793","#4a9a94","#297a8e","#225a85","#2c3172"]}},"stroke":{"field":"lo","type":"quantitative","legend":null,"scale":{"domain":[1,2,3,4,5,6],"range":["#a5cd90","#77b793","#4a9a94","#297a8e","#225a85","#2c3172"]}}}}
]}
]}
